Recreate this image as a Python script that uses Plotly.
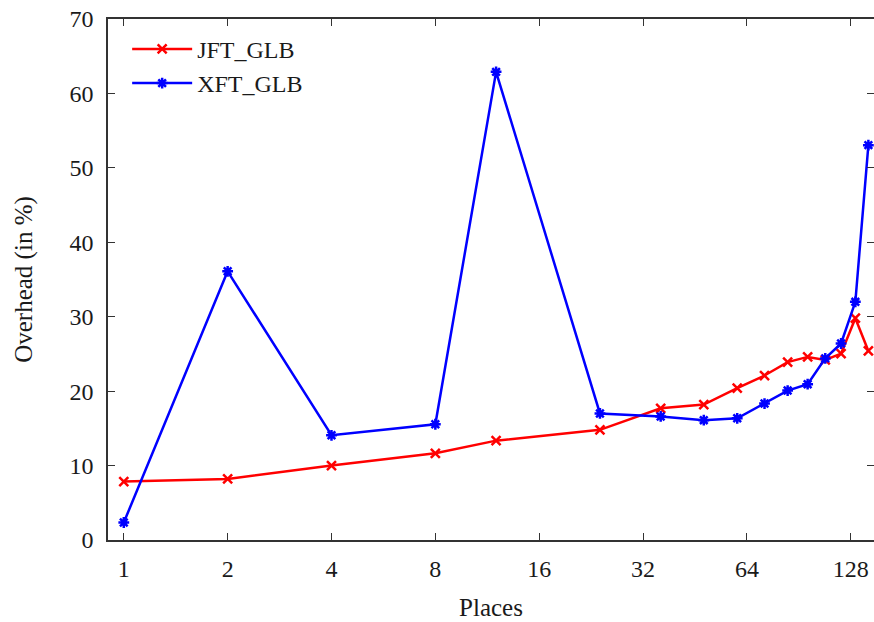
import math
import plotly.graph_objects as go

places = [1, 2, 4, 8, 12, 24, 36, 48, 60, 72, 84, 96, 108, 120, 132, 144]
jft_glb = [7.85, 8.2, 10.0, 11.65, 13.35, 14.8, 17.7, 18.2, 20.4, 22.1, 23.9, 24.6, 24.2, 25.05, 29.8, 25.4]
xft_glb = [2.35, 36.1, 14.07, 15.55, 62.9, 17.0, 16.6, 16.1, 16.35, 18.33, 20.08, 20.93, 24.4, 26.4, 32.0, 53.05]
x_ticks = [1, 2, 4, 8, 16, 32, 64, 128]
y_ticks = [0, 10, 20, 30, 40, 50, 60, 70]

FONT = "Liberation Serif"
TXT = "#1a1a1a"

fig = go.Figure()
fig.add_trace(go.Scatter(
    x=places, y=jft_glb, name="JFT_GLB", mode="lines+markers",
    line=dict(color="#ff0000", width=2.5),
    marker=dict(symbol="x-thin", size=9, line=dict(color="#ff0000", width=2.5)),
    cliponaxis=False,
))
fig.add_trace(go.Scatter(
    x=places, y=xft_glb, name="XFT_GLB", mode="lines+markers",
    line=dict(color="#0000ff", width=2.5),
    marker=dict(symbol="asterisk", size=9, line=dict(color="#0000ff", width=2.5)),
    cliponaxis=False,
))

axis_common = dict(
    showline=True, linecolor="#333333", linewidth=1.5,
    ticks="inside", ticklen=7, tickwidth=1, tickcolor="#333333",
    mirror="ticks", showgrid=False, zeroline=False, automargin=False,
    ticklabeloverflow="allow",
    tickfont=dict(family=FONT, size=24, color=TXT),
)

fig.update_layout(
    width=874, height=622,
    margin=dict(l=108, r=0, t=19, b=82),
    paper_bgcolor="white", plot_bgcolor="white",
    font=dict(family=FONT, size=24, color=TXT),
    xaxis=dict(
        type="log", range=[math.log10(0.9), math.log10(149.5)],
        tickvals=x_ticks, ticktext=[str(v) for v in x_ticks],
        ticklabelstandoff=6,
        title=dict(text="Places", font=dict(family=FONT, size=25, color=TXT), standoff=18),
        **axis_common,
    ),
    yaxis=dict(
        range=[0, 70], tickvals=y_ticks,
        ticklabelstandoff=8,
        title=dict(text="Overhead (in %)", font=dict(family=FONT, size=25, color=TXT), standoff=30),
        **axis_common,
    ),
    legend=dict(
        x=0.025, y=0.985, xanchor="left", yanchor="top",
        bgcolor="rgba(0,0,0,0)", font=dict(family=FONT, size=24, color=TXT),
        itemwidth=60, tracegroupgap=0,
    ),
)

# remove the page's default body margin so the figure fills the window exactly
fig.write_html(
    "out.html",
    config={"displayModeBar": False},
    post_script=(
        "document.body.style.margin='0';"
        "document.body.style.overflow='hidden';"
        "document.documentElement.style.overflow='hidden';"
    ),
)
